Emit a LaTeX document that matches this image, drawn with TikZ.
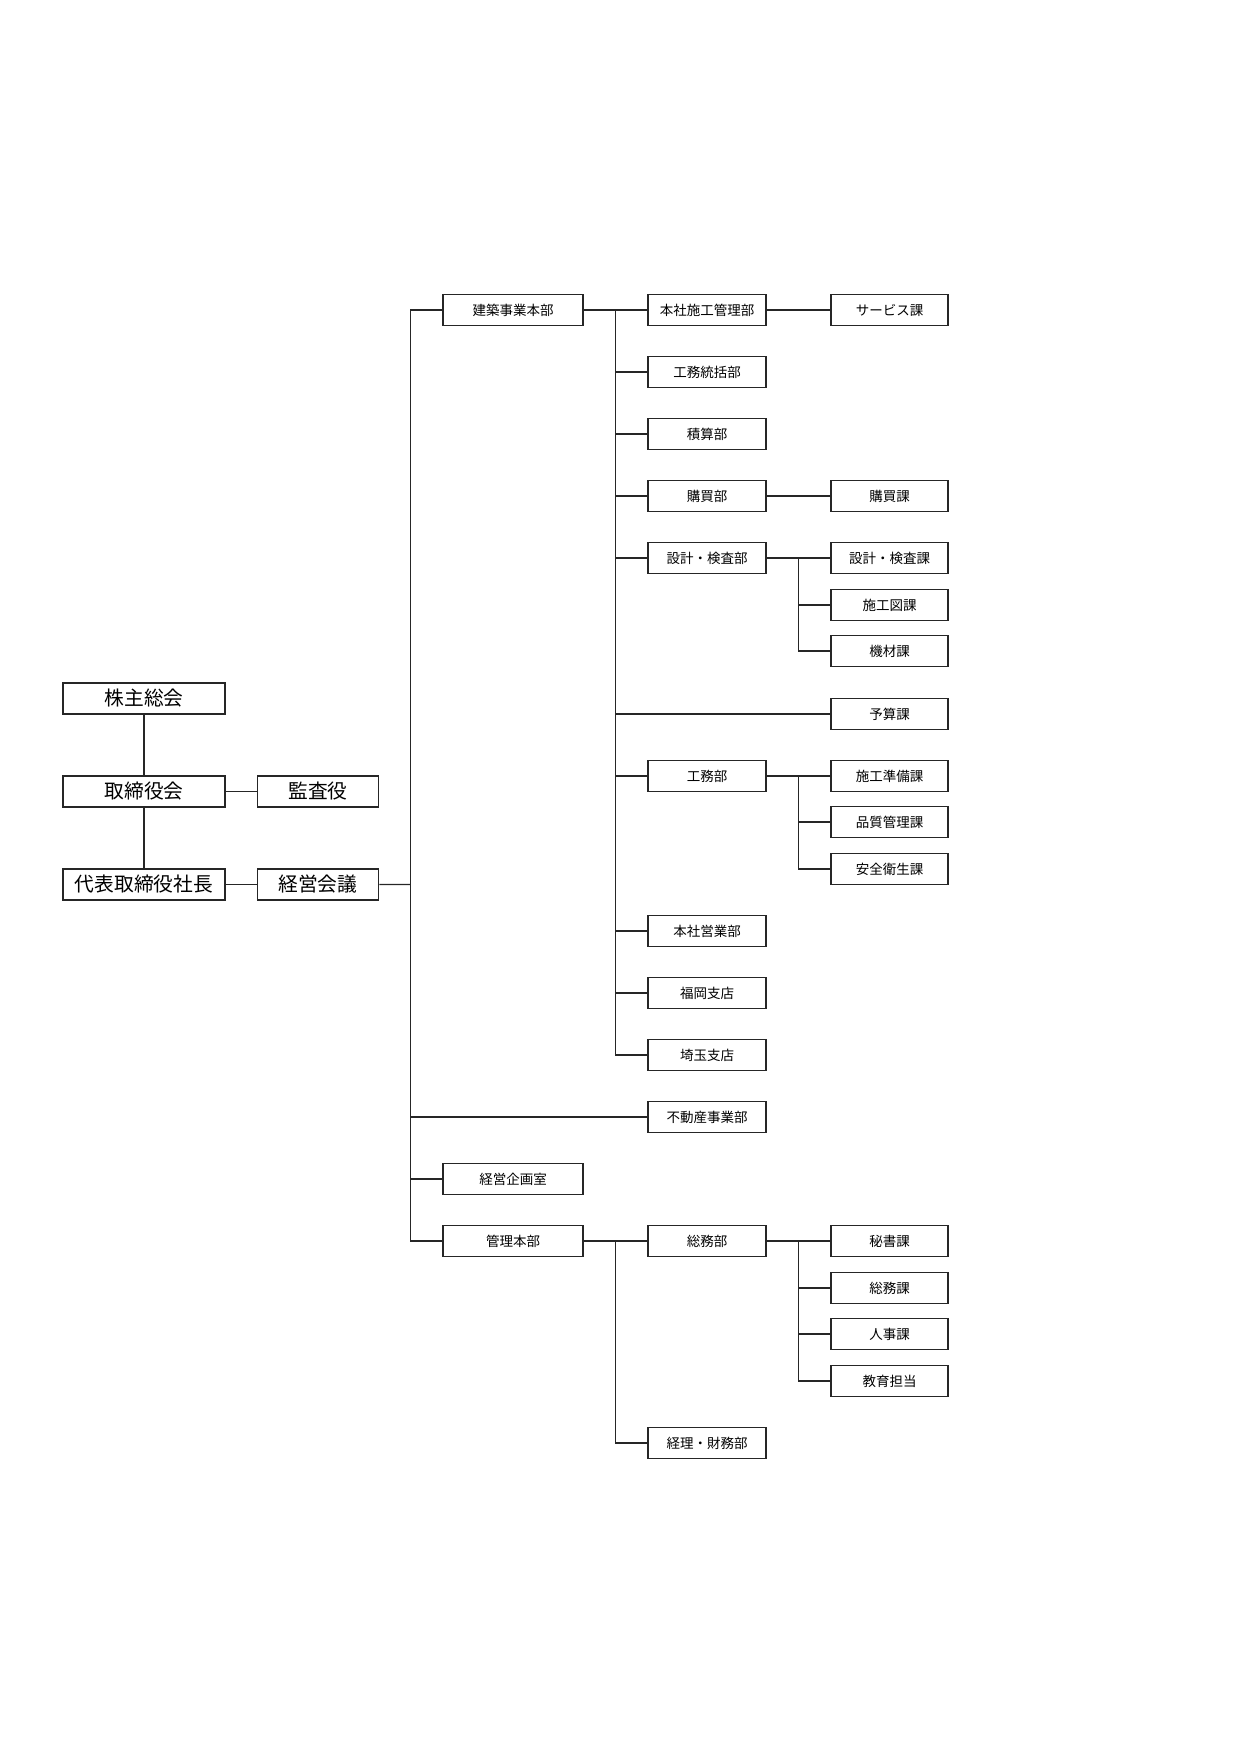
\documentclass[tikz,border=0pt]{standalone}
\usepackage{fontspec}
\setmainfont{Noto Sans CJK JP}
\usetikzlibrary{positioning,calc}
\tikzset{line/.style={line width=0.6pt, draw=black!85},
box/.style={draw=black!85, line width=0.8pt, minimum height=5.25mm, inner sep=0pt, align=center, font=\fontsize{6.5}{7}\selectfont},
topbox/.style={box, minimum width=27.4mm, font=\fontsize{9.5}{11}\selectfont},
sidebox/.style={topbox, minimum width=20.5mm},
hqbox/.style={box, minimum width=23.7mm},
deptbox/.style={box, minimum width=20mm},
secbox/.style={box, minimum width=19.8mm}}

\begin{document}
\begin{tikzpicture}[x=0.16922mm, y=-0.16922mm, node distance=10.2mm]
\useasboundingbox (0,0) rectangle (1241,1755);

% Top management
\node[topbox] at (144,698.5) (sokai) {株主総会};
\node[topbox, below=of sokai] (torishimari) {取締役会};
\node[sidebox, right=5.2mm of torishimari] (kansa) {監査役};
\node[topbox, below=of torishimari] (shacho) {代表取締役社長};
\node[sidebox, right=5.2mm of shacho] (keiei) {経営会議};

% Head offices
\node[hqbox] at (513,310) (kenchiku) {建築事業本部};
\node[hqbox] at (513,1179) (kikaku) {経営企画室};
\node[hqbox] at (513,1241) (kanri) {管理本部};

% Departments
\node[deptbox] at (707,310) (honsha) {本社施工管理部};
\node[deptbox] at (707,372) (toukatsu) {工務統括部};
\node[deptbox] at (707,434) (sekisan) {積算部};
\node[deptbox] at (707,496) (koubai) {購買部};
\node[deptbox] at (707,558) (sekkei) {設計・検査部};
\node[deptbox] at (707,776) (koumu) {工務部};
\node[deptbox] at (707,931) (eigyou) {本社営業部};
\node[deptbox] at (707,993) (fukuoka) {福岡支店};
\node[deptbox] at (707,1055) (saitama) {埼玉支店};
\node[deptbox] at (707,1117) (fudousan) {不動産事業部};
\node[deptbox] at (707,1241) (soumu) {総務部};
\node[deptbox] at (707,1443) (keiri) {経理・財務部};

% Sections
\node[secbox] at (889.5,310) (service) {サービス課};
\node[secbox] at (889.5,496) (koubaika) {購買課};
\node[secbox] at (889.5,558) (sekkeika) {設計・検査課};
\node[secbox] at (889.5,605) (sekouzu) {施工図課};
\node[secbox] at (889.5,651) (kizai) {機材課};
\node[secbox] at (889.5,714) (yosan) {予算課};
\node[secbox] at (889.5,776) (junbi) {施工準備課};
\node[secbox] at (889.5,822) (hinshitsu) {品質管理課};
\node[secbox] at (889.5,869) (anzen) {安全衛生課};
\node[secbox] at (889.5,1241) (hisho) {秘書課};
\node[secbox] at (889.5,1288) (soumuka) {総務課};
\node[secbox] at (889.5,1334) (jinji) {人事課};
\node[secbox] at (889.5,1381) (kyouiku) {教育担当};

% Buses
\coordinate (mainbus) at ($(keiei.east)!0.5!(kenchiku.west |- keiei)$);
\coordinate (kbus) at ($(kenchiku.east)!0.5!(honsha.west)$);
\coordinate (sbus) at ($(kanri.east)!0.5!(soumu.west)$);
\coordinate (sekbus) at ($(sekkei.east)!0.5!(sekkeika.west)$);
\coordinate (kmbus) at ($(koumu.east)!0.5!(junbi.west)$);
\coordinate (smbus) at ($(soumu.east)!0.5!(hisho.west)$);

% Top connectors
\draw[line] (sokai) -- (torishimari);
\draw[line] (torishimari) -- (shacho);
\draw[line] (torishimari) -- (kansa);
\draw[line] (shacho) -- (keiei);
\draw[line] (keiei.east) -- (mainbus);
\draw[line] (kenchiku.west) -| (mainbus |- kanri) -- (kanri.west);
\draw[line] (mainbus |- kikaku) -- (kikaku.west);
\draw[line] (mainbus |- fudousan) -- (fudousan.west);

% Construction division
\draw[line] (kenchiku.east) -- (honsha.west);
\draw[line] (kbus) |- (saitama.west);
\draw[line] (kbus |- toukatsu) -- (toukatsu.west);
\draw[line] (kbus |- sekisan) -- (sekisan.west);
\draw[line] (kbus |- koubai) -- (koubai.west);
\draw[line] (kbus |- sekkei) -- (sekkei.west);
\draw[line] (kbus |- yosan) -- (yosan.west);
\draw[line] (kbus |- koumu) -- (koumu.west);
\draw[line] (kbus |- eigyou) -- (eigyou.west);
\draw[line] (kbus |- fukuoka) -- (fukuoka.west);
\draw[line] (honsha) -- (service);
\draw[line] (koubai) -- (koubaika);
\draw[line] (sekkei) -- (sekkeika);
\draw[line] (sekbus) |- (kizai.west);
\draw[line] (sekbus |- sekouzu) -- (sekouzu.west);
\draw[line] (koumu) -- (junbi);
\draw[line] (kmbus) |- (anzen.west);
\draw[line] (kmbus |- hinshitsu) -- (hinshitsu.west);

% Administration division
\draw[line] (kanri) -- (soumu);
\draw[line] (sbus) |- (keiri.west);
\draw[line] (soumu) -- (hisho);
\draw[line] (smbus) |- (kyouiku.west);
\draw[line] (smbus |- soumuka) -- (soumuka.west);
\draw[line] (smbus |- jinji) -- (jinji.west);
\end{tikzpicture}
\end{document}
